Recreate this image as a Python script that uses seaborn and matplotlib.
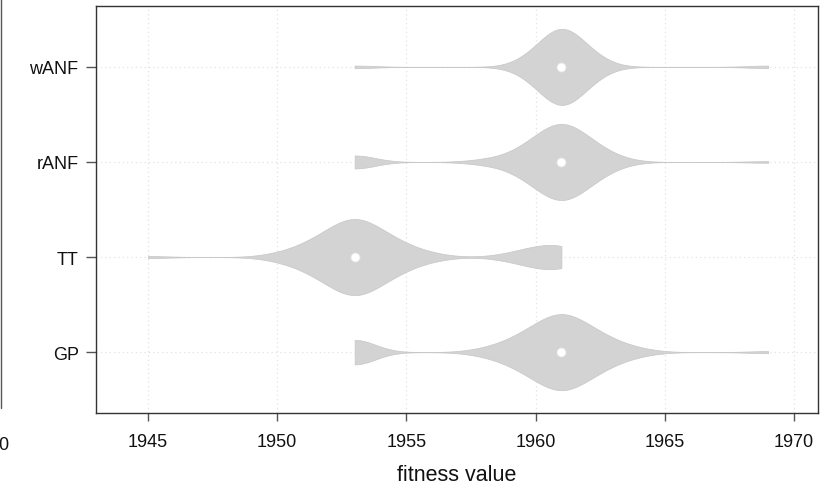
import numpy as np
import pandas as pd
import matplotlib
matplotlib.use("Agg")
import matplotlib.pyplot as plt
from matplotlib.lines import Line2D
import seaborn as sns

# ---- data (fitness values, as value / count pairs) ----
categories = ["wANF", "rANF", "TT", "GP"]

wanf_values = [1953, 1960, 1961, 1962, 1969]
wanf_counts = [1, 6, 24, 7, 1]

ranf_values = [1953, 1958, 1959, 1960, 1961, 1962, 1963, 1969]
ranf_counts = [8, 2, 4, 16, 32, 16, 4, 1]

tt_values = [1945, 1950, 1951, 1952, 1953, 1954, 1955, 1956, 1959, 1960, 1961]
tt_counts = [1, 2, 6, 14, 24, 14, 6, 2, 2, 6, 8]

gp_values = [1953, 1958, 1959, 1960, 1961, 1962, 1963, 1964, 1969]
gp_counts = [12, 2, 6, 14, 24, 14, 6, 2, 1]

x_ticks = [1945, 1950, 1955, 1960, 1965, 1970]

groups = {
    "wANF": (wanf_values, wanf_counts),
    "rANF": (ranf_values, ranf_counts),
    "TT": (tt_values, tt_counts),
    "GP": (gp_values, gp_counts),
}
rows = []
for name in categories:
    v, c = groups[name]
    for val in np.repeat(v, c):
        rows.append({"algorithm": name, "fitness": float(val)})
df = pd.DataFrame(rows)

BW = 0.8  # absolute kernel bandwidth


def abs_bw(kde):
    return BW / np.std(kde.dataset, ddof=1)


sns.set_theme(style="white")
plt.rcParams["font.family"] = ["Liberation Sans", "DejaVu Sans"]

fig = plt.figure(figsize=(8.25, 4.89), dpi=100)
ax = fig.add_axes([96 / 825, 1 - 414 / 489, (818 - 96) / 825, (414 - 7) / 489])

# grid first
for t in x_ticks:
    ax.axvline(t, color="#e2e2e2", lw=0.9, ls=(0, (1, 2.5)), zorder=0)
for i in range(len(categories)):
    ax.axhline(i, color="#e2e2e2", lw=0.9, ls=(0, (1, 2.5)), zorder=0)

sns.violinplot(
    data=df, x="fitness", y="algorithm", order=categories, orient="h",
    color="#d3d3d3", linecolor="#c8c8c8", linewidth=0.55, saturation=1,
    density_norm="width", width=0.8, cut=0, inner=None,
    bw_method=abs_bw, gridsize=400, ax=ax,
)
for coll in ax.collections:
    coll.set_zorder(2)

medians = df.groupby("algorithm")["fitness"].median().reindex(categories)
ax.scatter(medians.values, np.arange(len(categories)), s=42, color="white",
           edgecolor="#e6e6e6", linewidth=0.6, zorder=4)

ax.set_xlim(1942.99, 1970.93)
ax.set_ylim(3.64, -0.64)
ax.set_xticks(x_ticks)
ax.set_xticklabels([str(t) for t in x_ticks])
ax.set_yticks(range(len(categories)))
ax.set_yticklabels(categories)
ax.set_ylabel("")
ax.set_xlabel("fitness value", fontsize=15.5, labelpad=10, color="#111111")

ax.tick_params(axis="both", which="both", direction="out", width=1,
               color="#555555", labelsize=13, labelcolor="#111111",
               bottom=True, left=True)
ax.tick_params(axis="x", length=6, pad=8.5)
ax.tick_params(axis="y", length=7, pad=5.5)
for s in ax.spines.values():
    s.set_visible(True)
    s.set_color("#333333")
    s.set_linewidth(1.0)

# fragments of a neighbouring panel cut off at the left edge
fig.add_artist(Line2D([0.6 / 825, 0.6 / 825], [1.0, 1 - 409 / 489],
                      transform=fig.transFigure, color="#555555", lw=1.0))
fig.text(8 / 825, 1 - 446 / 489, "0", ha="right", va="center", fontsize=13,
         color="#111111")

fig.savefig("out.png", dpi=100)
